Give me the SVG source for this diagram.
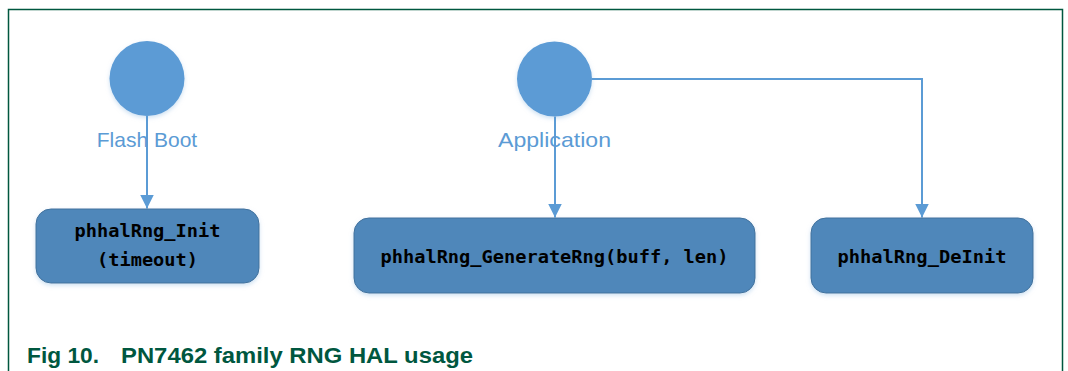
<svg xmlns="http://www.w3.org/2000/svg" width="1068" height="371" viewBox="0 0 1068 371">
<style>
.start{fill:#5b9bd5}
.box{fill:#4f87ba;stroke:#41719c;stroke-width:1}
.lbl{font-family:"Liberation Sans",Arial,sans-serif;font-size:21px;fill:#5b9bd5;text-anchor:middle}
.code{font-family:"DejaVu Sans Mono","Liberation Mono",monospace;font-weight:bold;font-size:18px;fill:#000;text-anchor:middle}
.conn{fill:none;stroke:#5b9bd5;stroke-width:2}
.cap{font-family:"Liberation Sans",Arial,sans-serif;font-weight:bold;font-size:21.5px;fill:#00573f}
</style>
<defs>
<marker id="arr" viewBox="0 0 14 14" refX="14" refY="7" markerWidth="14" markerHeight="14" markerUnits="userSpaceOnUse" orient="auto">
<path d="M0,0 L14,7 L0,14 Z" fill="#5b9bd5"/>
</marker>
<filter id="sh" x="-10%" y="-10%" width="120%" height="130%">
<feDropShadow dx="0" dy="2" stdDeviation="2" flood-color="#9dc3e6" flood-opacity="0.5"/>
</filter>
</defs>
<rect x="0" y="0" width="1068" height="371" fill="#fff"/>
<path d="M8.5,371 V9.5 H1062.5 V371" fill="none" stroke="#00573f" stroke-width="1.5"/>
<g id="flashboot">
<circle class="start" cx="147" cy="78.5" r="37.5" filter="url(#sh)"/>
<text class="lbl" x="147" y="147">Flash Boot</text>
</g>
<g id="application">
<circle class="start" cx="554.5" cy="79" r="37.5" filter="url(#sh)"/>
<text class="lbl" x="554.5" y="147" textLength="113" lengthAdjust="spacingAndGlyphs">Application</text>
</g>
<g id="connectors">
<path class="conn" d="M147,116 V208.5" marker-end="url(#arr)"/>
<path class="conn" d="M555,116.5 V217.5" marker-end="url(#arr)"/>
<path class="conn" d="M592,79 H922 V217.5" marker-end="url(#arr)"/>
</g>
<g id="init">
<rect class="box" x="36" y="209" width="223" height="74" rx="15" filter="url(#sh)"/>
<text class="code" x="147.5" y="237" textLength="146" lengthAdjust="spacingAndGlyphs">phhalRng_Init</text>
<text class="code" x="147.5" y="266" textLength="101" lengthAdjust="spacingAndGlyphs">(timeout)</text>
</g>
<g id="generate">
<rect class="box" x="354" y="218" width="401" height="75" rx="15" filter="url(#sh)"/>
<text class="code" x="554.5" y="263" textLength="348" lengthAdjust="spacingAndGlyphs">phhalRng_GenerateRng(buff, len)</text>
</g>
<g id="deinit">
<rect class="box" x="811" y="218" width="222" height="75" rx="15" filter="url(#sh)"/>
<text class="code" x="922" y="263" textLength="169" lengthAdjust="spacingAndGlyphs">phhalRng_DeInit</text>
</g>
<g id="caption">
<text class="cap" x="27" y="363" textLength="72" lengthAdjust="spacingAndGlyphs">Fig 10.</text>
<text class="cap" x="121" y="363" textLength="352" lengthAdjust="spacingAndGlyphs">PN7462 family RNG HAL usage</text>
</g>
</svg>
